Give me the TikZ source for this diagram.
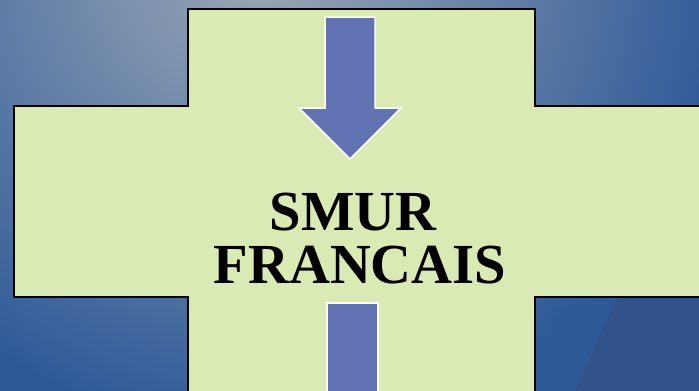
\documentclass[tikz,border=0pt]{standalone}
\usepackage{fontspec}
\setmainfont{Liberation Serif}
\usetikzlibrary{positioning}
\definecolor{crossgreen}{HTML}{D9EAB4}
\definecolor{arrowblue}{HTML}{6173B3}
\definecolor{bgdark}{HTML}{2F5A98}
\definecolor{bglight}{HTML}{9CA8B6}
\definecolor{bgwedge}{HTML}{32528A}

\begin{document}
\begin{tikzpicture}[x=1pt, y=-1pt,
  cross/.style={draw=black, fill=crossgreen, line width=2pt, line join=miter},
  arrowshape/.style={draw=white, fill=arrowblue, line width=1.5pt, line join=miter},
  title/.style={font=\fontsize{56.6}{53}\selectfont\bfseries, inner sep=0pt}
]
  \useasboundingbox (0,0) rectangle (699,391);
  % background
  \begin{scope}
    \clip (0,0) rectangle (699,391);
    \fill[bgdark] (0,0) rectangle (699,391);
    \shade[inner color=bglight, outer color=bgdark] (260,-40) circle (470);
    \fill[bgwedge] (575,391) .. controls (598,340) .. (622,285) -- (699,285) -- (699,391) -- cycle;
  \end{scope}
  % cross
  \draw[cross] (188,9) -- (535,9) -- (535,106) -- (712,106) -- (712,297) -- (535,297)
    -- (535,402) -- (188,402) -- (188,297) -- (14,297) -- (14,106) -- (188,106) -- cycle;
  % arrows
  \draw[arrowshape] (325,17) -- (375,17) -- (375,108) -- (401,108) -- (350,159)
    -- (299,108) -- (325,108) -- cycle;
  \draw[arrowshape] (327,303) -- (378,303) -- (378,402) -- (327,402) -- cycle;
  % text
  \node[title, anchor=base] (smur) at (353,230) {SMUR};
  \node[title, anchor=base] (francais) at (360,283) {FRANCAIS};
\end{tikzpicture}
\end{document}
